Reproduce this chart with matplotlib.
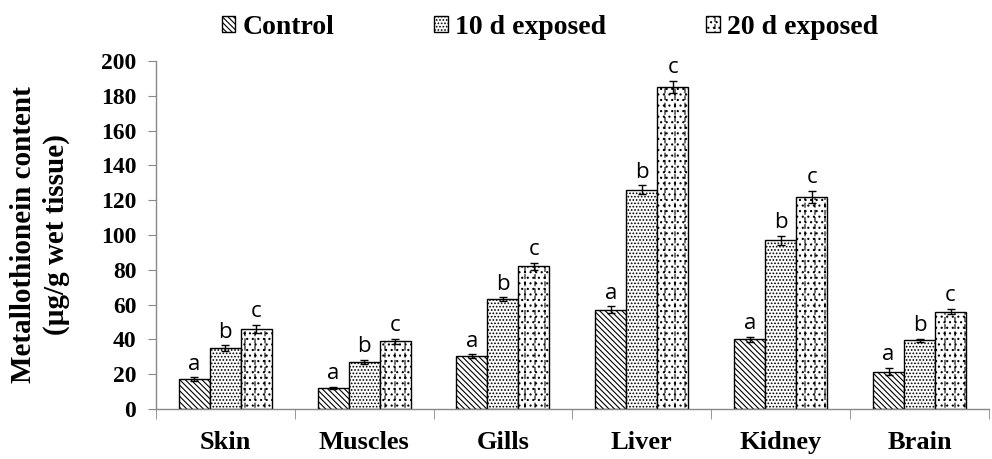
import warnings
import numpy as np
import matplotlib.pyplot as plt
import matplotlib.hatch as mhatch
from matplotlib.path import Path
from matplotlib.ticker import FixedLocator

warnings.filterwarnings('ignore')

tissues = ['Skin', 'Muscles', 'Gills', 'Liver', 'Kidney', 'Brain']
series = ['Control', '10 d exposed', '20 d exposed']
control = [17, 12, 30.5, 57, 40, 21.5]
exp10 = [35, 27, 63, 126, 97, 39.5]
exp20 = [46, 39, 82, 185, 122, 56]
err_control = [1.2, 0.8, 1.0, 2.0, 1.5, 2.0]
err_10 = [1.5, 1.2, 1.2, 2.5, 2.5, 1.0]
err_20 = [2.5, 1.5, 2.0, 3.5, 3.5, 1.5]
letters = ['a', 'b', 'c']


class DashedVertical(mhatch.HatchPatternBase):
    # vertical dashed lines, '!' in the hatch string
    def __init__(self, hatch, density):
        self.num_lines = hatch.count('!') * 10
        self.num_dashes = 14
        self.num_vertices = self.num_lines * self.num_dashes * 2

    def set_vertices_and_codes(self, vertices, codes):
        if self.num_lines == 0:
            return
        xs = np.linspace(0, 1, self.num_lines, endpoint=False) + 0.5 / self.num_lines
        step = 1.0 / self.num_dashes
        k = 0
        for xv in xs:
            for d in range(self.num_dashes):
                y0 = d * step
                vertices[k] = (xv, y0)
                vertices[k + 1] = (xv, y0 + step * 0.55)
                codes[k] = Path.MOVETO
                codes[k + 1] = Path.LINETO
                k += 2


mhatch._hatch_types.append(DashedVertical)

plt.rcParams['hatch.linewidth'] = 0.8
serif = 'Liberation Serif'

fig = plt.figure(figsize=(9.92, 4.59), dpi=100)
ax = fig.add_axes([0.157, 0.109, 0.84, 0.758])

x = np.arange(len(tissues))
w = 0.223
hatches = ['\\\\\\\\\\\\', '.....', '!...']
values = [control, exp10, exp20]
errors = [err_control, err_10, err_20]

for i in range(3):
    ax.bar(x + (i - 1) * w, values[i], w, color='white', edgecolor='black',
           linewidth=1.0, hatch=hatches[i], label=series[i],
           yerr=errors[i], capsize=3,
           error_kw=dict(elinewidth=1, capthick=1, ecolor='black'))
    for xi, v, e in zip(x + (i - 1) * w, values[i], errors[i]):
        ax.text(xi, v + e + 1.5, letters[i], ha='center', va='bottom',
                fontsize=16, family='Open Sans')

ax.set_xlim(-0.5, 5.5)
ax.set_ylim(0, 200)
ax.set_yticks(np.arange(0, 201, 20))
ax.set_xticks(x)
ax.set_xticklabels(tissues)
ax.xaxis.set_minor_locator(FixedLocator(np.arange(-0.5, 6, 1)))
ax.tick_params(axis='x', which='major', length=0, pad=16)
ax.tick_params(axis='x', which='minor', length=7, color='#888888')
ax.tick_params(axis='y', length=6, color='#888888', pad=8)
for lab in ax.get_xticklabels():
    lab.set_fontfamily(serif)
    lab.set_fontweight('bold')
    lab.set_fontsize(19)
for lab in ax.get_yticklabels():
    lab.set_fontfamily(serif)
    lab.set_fontweight('bold')
    lab.set_fontsize(17)

for s in ['top', 'right']:
    ax.spines[s].set_visible(False)
for s in ['left', 'bottom']:
    ax.spines[s].set_color('#888888')
    ax.spines[s].set_linewidth(1.0)

ax.set_ylabel('Metallothionein content\n(µg/g wet tissue)', family=serif,
              fontweight='bold', fontsize=21, labelpad=22, linespacing=1.3)

ax.legend(loc='upper center', bbox_to_anchor=(0.473, 1.205), ncol=3, frameon=False,
          prop=dict(family=serif, weight='bold', size=20), handlelength=0.5,
          handleheight=0.5, handletextpad=0.25, columnspacing=3.6)

fig.savefig('out.png', dpi=100)
